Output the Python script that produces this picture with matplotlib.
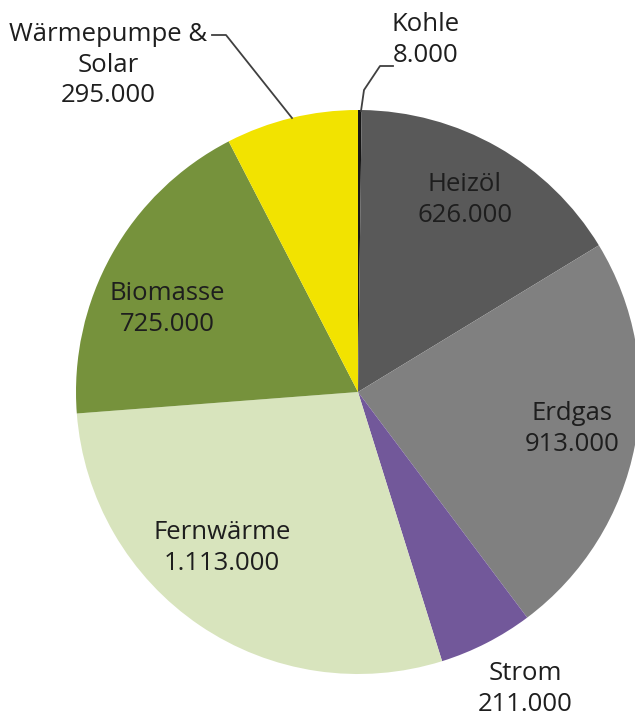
# coding:utf-8
import matplotlib
matplotlib.use("Agg")
import matplotlib.pyplot as plt

# Daten: Beheizungsstruktur (Anzahl Wohnungen)
kategorien = ["Kohle", "Heizöl", "Erdgas", "Strom", "Fernwärme", "Biomasse", "Wärmepumpe &\nSolar"]
werte = [8000, 626000, 913000, 211000, 1113000, 725000, 295000]
farben = ["#151515", "#595959", "#808080", "#72589a", "#d8e4bd", "#76923c", "#f2e300"]

W, H = 635, 720

plt.rcParams["font.family"] = ["Open Sans", "DejaVu Sans"]

fig = plt.figure(figsize=(W / 100, H / 100), dpi=100)
ax = fig.add_axes([0, 0, 1, 1])

ax.pie(werte, colors=farben, startangle=90, counterclock=False,
       center=(358, H - 392), radius=282, frame=True,
       wedgeprops=dict(linewidth=0))
ax.set_xlim(0, W)
ax.set_ylim(0, H)
ax.set_aspect("equal")
ax.axis("off")


def fmt(v):
    return f"{v:,}".replace(",", ".")


# Beschriftungspositionen (Pixel von oben)
pos = {
    "Kohle": (426, 40),
    "Heizöl": (465, 200),
    "Erdgas": (572, 429),
    "Strom": (525, 689),
    "Fernwärme": (222, 548),
    "Biomasse": (167, 309),
    "Wärmepumpe &\nSolar": (108, 65),
}

for k, v in zip(kategorien, werte):
    x, y = pos[k]
    ax.text(x, H - y, k + "\n" + fmt(v), ha="center", va="center",
            fontsize=18.5, color="#1e1e1e", linespacing=1.28)

# Führungslinien
ax.plot([212, 226, 292], [H - 35, H - 35, H - 118], color="#404040", lw=1.3)
ax.plot([393, 380, 364, 361], [H - 66, H - 66, H - 90, H - 111], color="#404040", lw=1.3)

fig.savefig("out.png", dpi=100, facecolor="white")
